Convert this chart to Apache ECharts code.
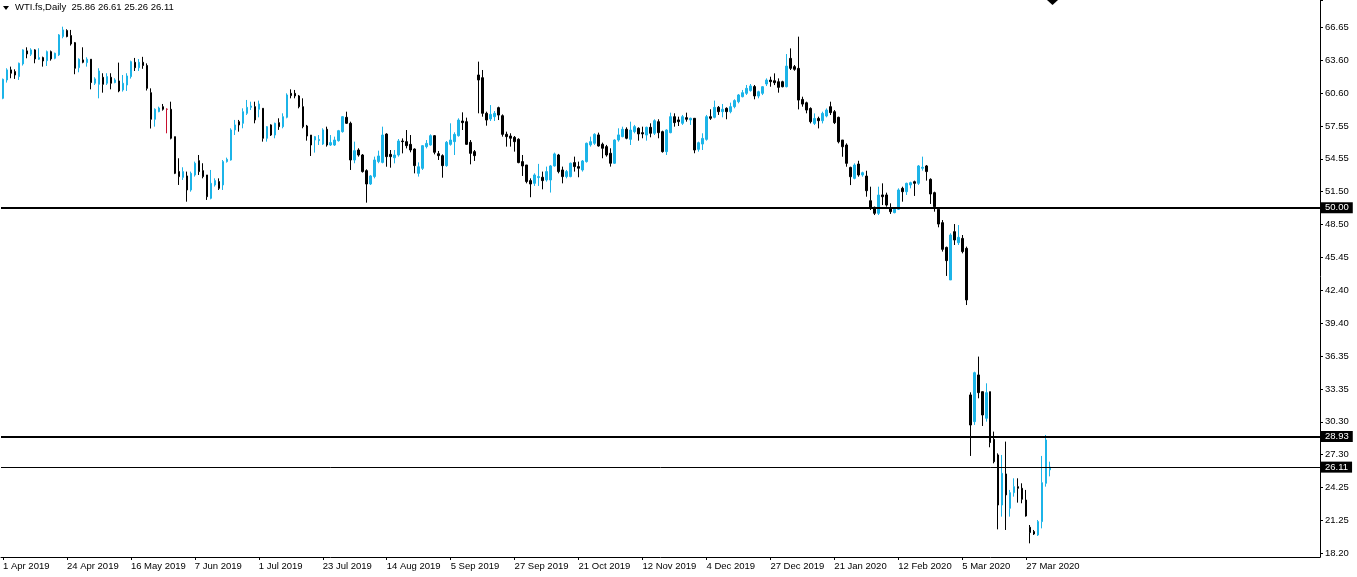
<!DOCTYPE html>
<html><head><meta charset="utf-8">
<script src="https://cdn.jsdelivr.net/npm/echarts@6.0.0/dist/echarts.min.js"></script>
<style>html,body{margin:0;padding:0;background:#fff;}#c{width:1357px;height:577px;}</style>
</head><body><div id="c"></div>
<script>
// ---------- DATA ----------
const opens = [
60.08,61.77,62.70,62.54,62.08,63.25,64.45,64.14,64.54,63.68,
63.83,63.55,64.38,63.77,64.08,65.77,66.32,65.86,65.21,62.91,
63.62,63.37,63.68,61.47,61.37,62.02,61.47,62.02,61.53,61.68,
60.85,61.31,62.08,63.40,62.90,63.40,63.10,60.60,58.15,58.85,
59.31,59.07,59.07,56.55,53.33,52.80,52.93,51.64,53.02,54.34,
53.42,53.02,50.87,52.10,52.41,52.10,54.25,54.40,57.17,57.93,
57.78,58.70,59.25,59.31,59.07,59.16,56.40,57.63,56.70,57.84,
57.47,58.33,60.54,60.54,60.30,59.31,57.53,56.70,56.24,56.18,
55.87,57.23,55.78,55.78,56.18,57.01,58.33,57.78,54.40,55.32,
54.86,53.42,52.19,52.87,54.25,54.18,56.79,54.92,54.61,54.86,
56.15,56.09,55.84,55.41,53.17,53.63,55.63,55.78,56.64,54.98,
54.80,53.88,55.84,56.09,56.64,57.99,57.93,56.03,55.17,62.23,
61.98,58.70,58.18,58.39,59.22,58.48,56.77,56.61,56.49,56.31,
54.25,53.94,52.50,52.25,52.78,52.81,52.56,52.56,53.85,54.86,
53.48,52.87,52.87,54.16,53.79,53.48,54.25,55.79,55.94,56.71,
55.85,55.63,55.02,54.10,56.24,56.55,57.23,56.30,57.01,57.32,
56.92,56.70,57.41,56.86,57.93,57.01,55.17,56.92,58.39,58.09,
57.78,58.30,58.09,58.24,55.38,55.87,56.30,58.39,58.33,59.25,
58.85,59.16,58.85,59.31,59.77,60.23,60.54,60.79,61.16,60.29,
60.54,61.40,61.76,61.70,61.61,61.61,61.15,63.76,63.00,62.84,
59.98,59.67,59.15,57.77,58.23,58.02,58.45,59.31,58.85,58.33,
56.24,55.78,53.72,52.71,54.03,53.02,52.92,50.65,50.04,49.49,
51.18,51.18,49.95,49.55,49.86,51.79,51.48,52.10,52.40,52.25,
53.64,53.85,52.62,51.39,49.86,48.63,46.35,43.35,47.80,46.78,
47.18,46.26,32.76,30.30,34.60,33.06,30.61,33.06,28.67,27.23,
22.62,25.48,22.32,23.76,24.31,24.16,23.08,20.57,20.17,19.86,
21.09,24.62,25.86
];
const closes = [
61.83,62.70,62.39,62.23,63.31,64.54,64.17,64.54,63.71,63.83,
63.52,64.38,63.71,64.23,65.92,66.38,65.77,65.09,62.85,63.68,
63.40,63.68,61.53,61.87,62.60,61.37,62.08,61.47,61.77,60.76,
61.47,62.14,63.46,62.90,63.40,63.10,61.00,58.15,59.07,59.19,
59.07,59.07,56.40,53.17,52.87,53.33,51.64,53.17,54.10,53.33,
52.87,51.02,52.25,52.50,51.79,54.25,54.46,57.17,57.63,57.63,
58.85,59.25,59.37,58.09,59.56,56.40,57.47,56.70,57.78,57.47,
58.39,60.39,60.33,60.30,59.31,57.47,56.61,55.78,56.55,56.30,
57.17,55.78,56.00,56.24,57.10,58.39,57.78,54.40,55.26,54.86,
53.33,52.19,52.93,54.40,54.77,56.70,54.71,54.71,54.86,56.15,
56.09,55.72,55.32,53.88,53.78,55.72,55.93,56.64,55.11,54.80,
53.88,56.03,56.24,56.76,58.08,57.84,55.84,55.01,54.80,61.77,
58.70,58.08,58.60,58.70,58.54,56.76,56.55,56.40,56.09,54.16,
53.85,52.41,52.19,53.02,52.87,52.50,53.33,53.85,54.96,53.33,
52.87,53.33,54.10,53.79,53.64,54.31,55.94,56.09,56.77,55.69,
55.48,54.86,54.10,56.24,56.71,57.23,56.40,57.16,57.47,56.80,
56.80,57.41,56.86,58.02,56.92,55.17,57.16,58.39,57.84,57.93,
58.39,58.15,58.24,55.32,55.99,56.39,58.39,58.24,59.25,58.85,
59.07,58.85,59.31,59.87,60.39,60.60,61.00,61.22,60.30,60.69,
61.15,61.76,61.61,61.52,61.09,61.15,63.05,62.84,62.75,59.92,
59.55,59.00,57.93,58.23,58.02,58.69,59.00,58.76,57.84,56.08,
55.62,54.09,52.86,53.94,53.02,53.23,51.57,49.94,49.49,51.17,
51.02,50.25,49.64,49.86,51.64,51.48,52.25,52.31,52.25,53.85,
53.73,53.33,51.27,50.10,48.50,46.17,45.13,47.49,47.03,47.28,
45.96,41.51,29.99,34.81,32.97,30.91,32.97,28.37,26.61,22.62,
25.54,23.55,23.76,24.31,24.16,23.15,21.61,20.08,19.95,21.09,
24.68,28.61,26.11
];
const lows = [
60.00,61.53,61.93,61.87,61.77,63.10,63.77,63.98,63.31,63.62,
63.00,63.06,63.55,63.68,63.98,65.61,65.70,64.94,62.30,62.48,
63.31,63.00,60.91,61.31,60.08,60.60,61.31,60.91,61.47,60.64,
60.70,60.76,61.90,62.60,62.60,62.80,60.80,57.30,57.47,58.80,
58.95,56.86,56.30,53.10,52.10,52.56,50.56,51.48,52.87,53.02,
52.71,50.72,50.78,51.95,51.64,51.64,54.16,54.34,56.70,57.01,
57.32,58.55,59.00,57.78,58.33,56.09,56.09,56.61,56.40,57.17,
57.32,58.24,60.08,60.08,59.16,57.32,56.18,54.77,55.08,55.78,
55.78,55.63,55.69,55.69,56.09,56.92,57.72,53.48,54.10,54.71,
53.24,50.47,52.10,52.71,54.10,54.09,53.78,53.69,54.09,54.71,
55.01,55.47,55.11,53.17,52.87,53.48,55.47,55.72,54.92,54.40,
52.77,53.78,55.72,54.86,56.55,57.16,55.78,54.00,54.31,58.70,
58.39,57.56,57.99,57.99,58.08,56.55,55.63,55.63,55.17,54.10,
52.93,52.25,50.97,52.01,52.01,51.70,52.41,51.40,53.79,53.17,
52.25,52.71,52.81,53.33,52.81,53.33,54.16,55.63,55.79,55.63,
54.56,54.71,53.79,54.04,56.09,56.49,56.31,55.78,56.86,56.18,
56.40,56.18,56.49,56.70,56.40,55.08,54.86,56.86,57.47,57.53,
57.63,57.93,57.63,55.02,55.17,55.32,56.18,58.09,58.24,58.55,
58.33,58.15,58.70,59.16,59.62,60.17,60.39,60.70,59.99,60.08,
60.38,61.21,61.15,61.30,60.60,61.09,61.09,62.69,62.62,59.06,
59.31,58.70,57.77,57.62,57.31,57.77,58.33,58.54,57.71,55.93,
54.70,53.78,52.09,52.62,52.86,52.86,51.02,49.79,49.33,49.33,
50.25,50.10,49.43,49.49,49.80,50.56,51.18,51.79,51.09,52.10,
53.42,52.50,50.35,49.64,48.20,45.96,43.72,43.35,46.57,46.57,
45.80,41.04,27.14,30.00,32.45,29.90,30.30,27.94,26.46,20.38,
21.55,20.32,21.55,23.39,22.84,22.78,21.55,19.09,19.86,19.77,
20.47,24.31,25.26
];
const highs = [
61.90,62.85,63.00,62.75,63.37,64.60,64.78,64.69,64.60,64.69,
63.92,64.48,64.48,64.29,66.00,66.68,66.44,66.38,65.27,63.77,
64.78,63.86,63.68,62.02,62.85,62.39,62.39,62.39,61.93,63.37,
62.23,62.39,63.55,63.80,63.70,63.90,63.30,61.00,59.16,59.31,
59.56,59.16,59.77,56.55,54.56,53.73,53.33,53.33,54.25,54.86,
54.10,53.02,53.48,52.71,52.71,54.40,54.62,57.32,58.09,58.09,
59.16,59.93,59.77,59.77,59.87,59.16,57.53,57.69,57.84,58.24,
58.70,60.54,60.91,60.85,60.39,60.08,57.63,56.70,56.61,56.70,
57.32,57.47,56.70,56.55,57.17,58.45,58.85,57.93,56.09,55.48,
54.95,53.54,53.02,54.71,55.26,57.47,56.86,55.32,55.32,56.33,
56.39,57.16,56.70,55.47,54.18,55.78,56.24,56.76,56.70,55.23,
54.92,56.15,57.78,56.95,58.24,58.79,58.30,56.24,55.32,63.46,
62.69,58.85,59.46,58.91,59.31,58.60,57.01,56.86,56.61,56.40,
54.86,53.94,52.71,53.17,54.04,53.33,53.79,53.94,55.08,54.96,
53.79,53.48,54.16,54.71,54.25,54.40,56.00,56.55,56.86,56.92,
56.00,55.79,55.48,56.31,57.32,57.47,57.41,57.93,57.63,57.41,
57.47,57.47,57.78,58.15,58.15,57.10,57.23,58.76,58.70,58.39,
58.55,58.76,58.30,58.24,56.09,56.86,58.55,59.07,59.87,59.37,
59.56,59.25,59.68,59.99,60.48,60.85,61.31,61.40,61.31,60.78,
61.21,61.92,62.07,62.38,61.92,61.70,64.16,64.68,63.15,65.76,
60.23,59.77,59.25,58.69,58.39,58.85,59.15,59.77,59.00,58.39,
56.24,55.93,53.78,54.09,54.33,53.32,53.41,51.94,50.10,51.94,
52.25,51.39,50.41,50.04,51.79,51.94,52.31,52.40,52.50,53.94,
54.71,53.94,52.71,51.48,50.04,48.87,46.42,47.65,48.50,48.41,
47.49,46.42,33.00,34.90,36.29,33.06,33.83,33.06,29.38,27.38,
27.23,28.46,24.01,25.08,25.08,24.62,24.01,20.78,20.32,21.24,
27.14,29.07,26.61
];
const dojiBars = [41];
const firstDate = '2019-04-01';
const skippedDates = ['2019-04-19', '2019-12-25', '2020-01-01'];
const monthNames = ['Jan','Feb','Mar','Apr','May','Jun','Jul','Aug','Sep','Oct','Nov','Dec'];
const yTickLabels = ['18.20','21.25','24.25','27.30','30.30','33.35','36.35','39.40','42.40','45.45','48.50','51.50','54.55','57.55','60.60','63.60','66.65'];
const levelValues = [50.00, 28.93, 26.11];
const levelLabels = ['50.00', '28.93', '26.11'];
const levelWidths = [2, 2, 1];
const titleText = 'WTI.fs,Daily  25.86 26.61 25.26 26.11';

// ---------- LAYOUT ----------
const W = 1357, H = 577;
const BLUE = '#1CB4E8', BLACK = '#000000', RED = '#C8102E';
const FONT = 'Liberation Sans, Arial, sans-serif';
const SLOTS = 330;                  // bars that fit the plot width (chart shift area included)
const LABEL_EVERY = 16;
const Y_IV = 48.45 / 16;            // label spacing
const Y_MIN = 6 * Y_IV;             // a multiple of the interval
const PX_PER = 48.45 / 526;         // price per pixel
const Y_MAX = 66.65 + 27 * PX_PER;  // price at top pixel row
const gridBottomPx = 27 + (66.65 - Y_MIN) / PX_PER;
const AXIS_X = 1320;

// categories (trading days)
const categories = [];
(function () {
  const d = new Date(firstDate + 'T00:00:00Z');
  while (categories.length < opens.length) {
    const wd = d.getUTCDay();
    const iso = d.toISOString().slice(0, 10);
    if (wd !== 0 && wd !== 6 && skippedDates.indexOf(iso) < 0) {
      categories.push(d.getUTCDate() + ' ' + monthNames[d.getUTCMonth()] + ' ' + d.getUTCFullYear());
    }
    d.setUTCDate(d.getUTCDate() + 1);
  }
  while (categories.length < SLOTS) categories.push('');
})();
const showAt = (idx, val) => idx % LABEL_EVERY === 0 && val !== '';

const candleData = opens.map((o, i) => {
  const item = { value: [o, closes[i], lows[i], highs[i]] };
  if (dojiBars.indexOf(i) >= 0) item.itemStyle = { color: RED, color0: RED, borderColor: RED, borderColor0: RED, borderColorDoji: RED };
  return item;
});

const chart = echarts.init(document.getElementById('c'), null, { renderer: 'canvas', width: W, height: H });
chart.setOption({
  animation: false,
  backgroundColor: '#ffffff',
  grid: { left: -1, right: W - AXIS_X, top: 0, bottom: H - gridBottomPx, containLabel: false },
  xAxis: {
    type: 'category',
    data: categories,
    boundaryGap: true,
    offset: 557 - gridBottomPx,
    axisLine: { show: true, lineStyle: { color: BLACK, width: 1 } },
    axisTick: { show: true, interval: showAt, alignWithLabel: true, length: 3, lineStyle: { color: BLACK } },
    axisLabel: { interval: showAt, align: 'left', color: BLACK, fontSize: 9.5, fontFamily: FONT, margin: 4 },
    splitLine: { show: false }
  },
  yAxis: {
    type: 'value',
    position: 'right',
    min: Y_MIN,
    max: Y_MAX,
    interval: Y_IV,
    scale: true,
    axisLine: { show: true, lineStyle: { color: BLACK, width: 1 } },
    axisTick: { show: true, inside: false, length: 3, lineStyle: { color: BLACK } },
    axisLabel: {
      color: BLACK, fontSize: 9.5, fontFamily: FONT, margin: 5,
      formatter: function (v) {
        const idx = Math.round((v - Y_MIN) / Y_IV);
        if (Math.abs(v - (Y_MIN + idx * Y_IV)) > 1e-3) return '';
        return yTickLabels[idx] || '';
      }
    },
    splitLine: { show: false }
  },
  series: [{
    type: 'candlestick',
    data: candleData,
    barWidth: 2,
    itemStyle: { color: BLUE, color0: BLACK, borderColor: BLUE, borderColor0: BLACK, borderWidth: 1 },
    markLine: {
      silent: true,
      symbol: ['none', 'none'],
      animation: false,
      data: levelValues.map((v, i) => ({
        yAxis: v,
        lineStyle: { color: BLACK, width: levelWidths[i], type: 'solid' },
        label: {
          show: true, position: 'end', formatter: levelLabels[i], distance: 1,
          color: '#ffffff', backgroundColor: BLACK, padding: [1, 4, 0, 4],
          fontSize: 9.5, fontFamily: FONT
        }
      }))
    }
  }],
  graphic: [
    { type: 'polygon', shape: { points: [[3, 6], [9, 6], [6, 10]] }, style: { fill: BLACK } },
    { type: 'text', left: 15, top: 2, style: { text: titleText, fill: BLACK, font: '9.5px ' + FONT } },
    { type: 'polygon', shape: { points: [[1047, 0], [1058, 0], [1052.5, 5]] }, style: { fill: BLACK } },
    { type: 'line', shape: { x1: AXIS_X + 0.5, y1: gridBottomPx - 1, x2: AXIS_X + 0.5, y2: 557.5 }, style: { stroke: BLACK, lineWidth: 1 } }
  ]
});
</script>
</body></html>
